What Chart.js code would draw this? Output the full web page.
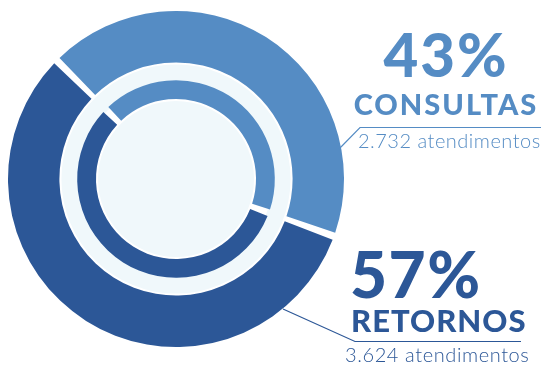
<!DOCTYPE html>
<html>
<head>
<meta charset="utf-8">
<script src="https://cdn.jsdelivr.net/npm/chart.js@4.4.1/dist/chart.umd.min.js"></script>
<style>
  html, body { margin: 0; padding: 0; background: #fff; }
  #wrap { position: relative; width: 543px; height: 367px; }
</style>
</head>
<body>
<div id="wrap"><canvas id="donut" width="543" height="367"></canvas></div>
<script>
const categories = ["CONSULTAS", "RETORNOS"];
const atendimentos = [2732, 3624];
const countLabels = ["2.732 atendimentos", "3.624 atendimentos"];
const colors = ["#558CC4", "#2C5797"];
const PALE = "#F0F8FB";

const total = atendimentos.reduce((a, b) => a + b, 0);
const percents = atendimentos.map(v => Math.round(v / total * 100) + "%");

// pale disk behind the rings (gap ring + center), rings keep white gaps
const paleBackdrop = {
    id: "paleBackdrop",
    beforeDatasetsDraw(chart) {
        const gap = chart.getDatasetMeta(1).data[0];
        const inner = chart.getDatasetMeta(2).data[0];
        if (!gap || !inner) return;
        const ctx = chart.ctx;
        ctx.save();
        ctx.fillStyle = PALE;
        ctx.beginPath();
        ctx.arc(gap.x, gap.y, gap.outerRadius, 0, Math.PI * 2);
        ctx.arc(gap.x, gap.y, gap.innerRadius, 0, Math.PI * 2, true);
        ctx.fill();
        ctx.beginPath();
        ctx.arc(inner.x, inner.y, inner.innerRadius, 0, Math.PI * 2);
        ctx.fill();
        ctx.restore();
    }
};

function text(ctx, str, x, y, font, spacing) {
    ctx.font = font;
    ctx.letterSpacing = spacing + "px";
    // keep centred text centred despite trailing letter spacing
    const shift = ctx.textAlign === "center" ? spacing / 2 : 0;
    ctx.fillText(str, x + shift, y);
}

const sideLabels = {
    id: "sideLabels",
    afterDraw(chart) {
        const ctx = chart.ctx;
        ctx.save();
        ctx.lineWidth = 1.2;

        // leader lines
        ctx.strokeStyle = colors[0];
        ctx.beginPath();
        ctx.moveTo(339, 149);
        ctx.lineTo(360, 127.5);
        ctx.lineTo(541, 127.5);
        ctx.stroke();

        ctx.strokeStyle = colors[1];
        ctx.beginPath();
        ctx.moveTo(283, 309);
        ctx.lineTo(355, 341.5);
        ctx.lineTo(521, 341.5);
        ctx.stroke();

        ctx.textBaseline = "alphabetic";

        // CONSULTAS block
        ctx.fillStyle = colors[0];
        ctx.textAlign = "center";
        text(ctx, percents[0], 445, 77, "900 60px Lato", 2);
        text(ctx, categories[0], 445, 115, "900 29px Lato", 2);
        ctx.textAlign = "left";
        text(ctx, countLabels[0], 358, 148, "300 20px Lato", 0.5);

        // RETORNOS block
        ctx.fillStyle = colors[1];
        text(ctx, percents[1], 350, 298, "900 64px Lato", 1.5);
        text(ctx, categories[1], 351, 332, "900 31px Lato", 1);
        text(ctx, countLabels[1], 345, 362, "300 20px Lato", 0.6);

        ctx.restore();
    }
};

new Chart(document.getElementById("donut"), {
    type: "doughnut",
    data: {
        labels: categories,
        datasets: [{
            data: atendimentos,
            backgroundColor: colors,
            borderWidth: 0,
            spacing: 4,
            weight: 52
        }, {
            data: [1],
            backgroundColor: "rgba(0,0,0,0)",
            borderWidth: 0,
            spacing: 4,
            weight: 18
        }, {
            data: atendimentos,
            backgroundColor: colors,
            borderWidth: 0,
            spacing: 4,
            weight: 19
        }]
    },
    options: {
        responsive: false,
        animation: false,
        cutout: "47%",
        rotation: -45,
        layout: { padding: { left: 8, right: 199, top: 11, bottom: 20 } },
        plugins: {
            legend: { display: false },
            tooltip: { enabled: false }
        }
    },
    plugins: [paleBackdrop, sideLabels]
});
</script>
</body>
</html>
